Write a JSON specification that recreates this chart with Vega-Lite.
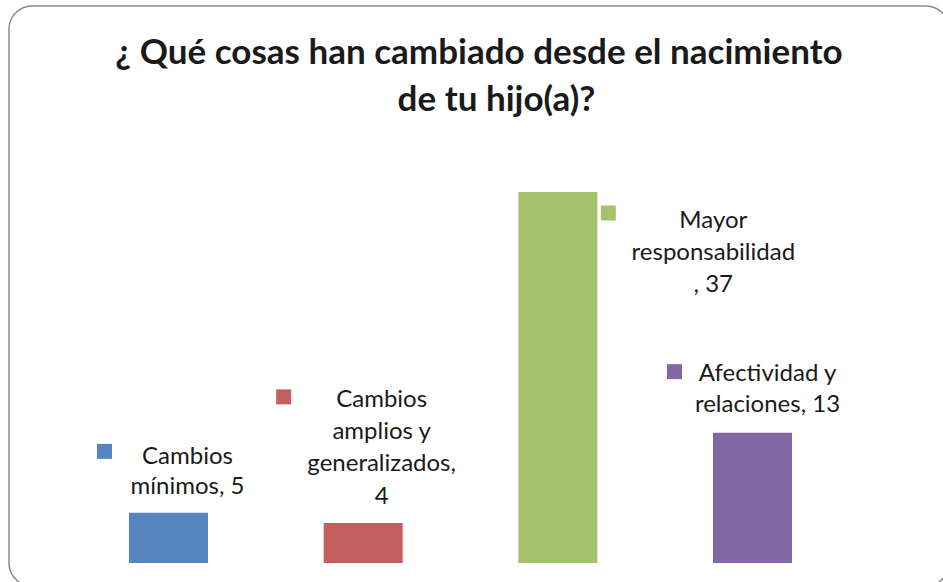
{
  "$schema": "https://vega.github.io/schema/vega-lite/v6.json",
  "autosize": {"type": "none"},
  "padding": {"left": 9, "top": 6, "right": 0, "bottom": 0},
  "width": 940,
  "height": 580,
  "background": "white",
  "config": {
    "view": {"stroke": "#8a8a8a", "strokeWidth": 1.5, "cornerRadius": 23, "fill": "white"}
  },
  "title": {
    "text": ["¿ Qué cosas han cambiado desde el nacimiento", "\u200b\u2002\u2002de tu hijo(a)?"],
    "font": "Lato",
    "fontSize": 35,
    "fontWeight": "bold",
    "color": "#1a1a1a",
    "lineHeight": 47,
    "anchor": "middle",
    "frame": "group",
    "offset": -112
  },
  "data": {
    "values": [
      {"categoria": "Cambios mínimos", "valor": 5, "etiqueta": "Cambios\nmínimos, 5"},
      {"categoria": "Cambios amplios y generalizados", "valor": 4, "etiqueta": "Cambios\namplios y\ngeneralizados,\n4"},
      {"categoria": "Mayor responsabilidad", "valor": 37, "etiqueta": "Mayor\nresponsabilidad\n, 37"},
      {"categoria": "Afectividad y relaciones", "valor": 13, "etiqueta": "Afectividad y\nrelaciones, 13"}
    ]
  },
  "encoding": {
    "x": {
      "field": "categoria",
      "type": "nominal",
      "sort": null,
      "axis": null,
      "scale": {"paddingInner": 0.5942, "paddingOuter": 0.7115, "align": 0.4332, "round": false}
    },
    "y": {
      "field": "valor",
      "type": "quantitative",
      "axis": null,
      "scale": {"domain": [-2.294, 55.55], "nice": false, "zero": false}
    },
    "color": {
      "field": "categoria",
      "type": "nominal",
      "legend": null,
      "scale": {
        "domain": ["Cambios mínimos", "Cambios amplios y generalizados", "Mayor responsabilidad", "Afectividad y relaciones"],
        "range": ["#5584BF", "#C55F5D", "#A5C169", "#8267A3"]
      }
    }
  },
  "layer": [
    {
      "mark": {"type": "bar"},
      "encoding": {"y2": {"datum": 0}}
    },
    {
      "transform": [{"filter": "datum.categoria == 'Cambios mínimos'"}],
      "mark": {"type": "text", "font": "Lato", "fontSize": 24, "lineHeight": 30, "lineBreak": "\n", "baseline": "alphabetic", "align": "center", "dx": 19, "dy": -49},
      "encoding": {"text": {"field": "etiqueta"}, "color": {"value": "#1a1a1a"}}
    },
    {
      "transform": [{"filter": "datum.categoria == 'Cambios amplios y generalizados'"}],
      "mark": {"type": "text", "font": "Lato", "fontSize": 24, "lineHeight": 32.3, "lineBreak": "\n", "baseline": "alphabetic", "align": "center", "dx": 18.5, "dy": -116},
      "encoding": {"text": {"field": "etiqueta"}, "color": {"value": "#1a1a1a"}}
    },
    {
      "transform": [{"filter": "datum.categoria == 'Afectividad y relaciones'"}],
      "mark": {"type": "text", "font": "Lato", "fontSize": 24, "lineHeight": 31, "lineBreak": "\n", "baseline": "alphabetic", "align": "center", "dx": 15, "dy": -52},
      "encoding": {"text": {"field": "etiqueta"}, "color": {"value": "#1a1a1a"}}
    },
    {
      "transform": [{"filter": "datum.categoria == 'Mayor responsabilidad'"}],
      "mark": {"type": "text", "font": "Lato", "fontSize": 24, "lineHeight": 32, "lineBreak": "\n", "baseline": "alphabetic", "align": "center", "dx": 155.5, "dy": 36},
      "encoding": {"text": {"field": "etiqueta"}, "color": {"value": "#1a1a1a"}}
    },
    {
      "transform": [{"filter": "datum.categoria == 'Cambios mínimos'"}],
      "mark": {"type": "point", "shape": "square", "filled": true, "opacity": 1, "size": 225, "xOffset": -64, "yOffset": -61.5}
    },
    {
      "transform": [{"filter": "datum.categoria == 'Cambios amplios y generalizados'"}],
      "mark": {"type": "point", "shape": "square", "filled": true, "opacity": 1, "size": 225, "xOffset": -79.5, "yOffset": -126}
    },
    {
      "transform": [{"filter": "datum.categoria == 'Afectividad y relaciones'"}],
      "mark": {"type": "point", "shape": "square", "filled": true, "opacity": 1, "size": 225, "xOffset": -78, "yOffset": -61}
    },
    {
      "transform": [{"filter": "datum.categoria == 'Mayor responsabilidad'"}],
      "mark": {"type": "point", "shape": "square", "filled": true, "opacity": 1, "size": 225, "xOffset": 50.5, "yOffset": 21}
    }
  ]
}
